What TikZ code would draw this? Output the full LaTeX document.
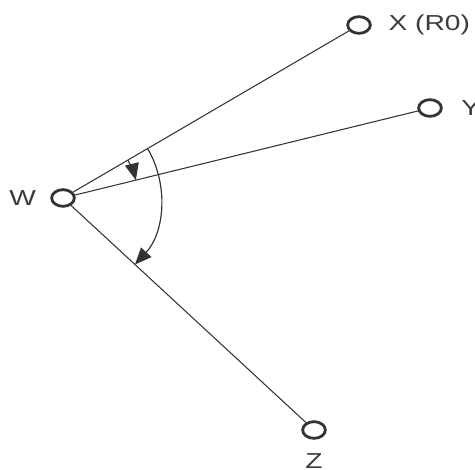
\documentclass[tikz,border=0pt]{standalone}
\usepackage{fontspec}
\usetikzlibrary{positioning,shapes.geometric,arrows.meta}
\newfontfamily\labelfont{Liberation Sans}[FakeStretch=1.3]
\definecolor{ink}{HTML}{333333}
\definecolor{labelgray}{HTML}{3C3C3C}
\tikzset{
  station/.style={ellipse, draw=ink, line width=2.4pt, minimum width=0.68cm,
    minimum height=0.5cm, inner sep=0pt},
  tag/.style={inner sep=0pt, text=labelgray, font=\labelfont\fontsize{18.5}{22}\selectfont},
  link/.style={ink, line width=0.9pt},
  sweep/.style={ink, line width=1pt, -{Triangle[length=0.5cm, width=0.42cm]}},
}

\begin{document}
\begin{tikzpicture}[x=0.03cm, y=0.03cm]
  \useasboundingbox (0,0) rectangle (475,469);
  % Stations
  \node[station] (W) at (63,271) {};
  \node[station] (X) at (359,444) {};
  \node[station] (Y) at (430,361) {};
  \node[station] (Z) at (314,39) {};
  % Labels
  \node[tag, left=0.42cm of W] (Wlabel) {W};
  \node[tag, right=0.5cm of X] (Xlabel) {X (R0)};
  \node[tag, right=0.55cm of Y] (Ylabel) {Y};
  \node[tag, below=0.42cm of Z] (Zlabel) {Z};
  % Links
  \draw[link] (W) -- (X);
  \draw[link] (W) -- (Y);
  \draw[link] (W) -- (Z);
  % Angles
  \draw[sweep] ([shift={(30.3:2.25cm)}]W.center)
    arc[start angle=30.3, end angle=13.8, radius=2.25cm];
  \draw[sweep] ([shift={(30.3:2.94cm)}]W.center)
    arc[start angle=30.3, end angle=-42.75, radius=2.94cm];
\end{tikzpicture}
\end{document}
